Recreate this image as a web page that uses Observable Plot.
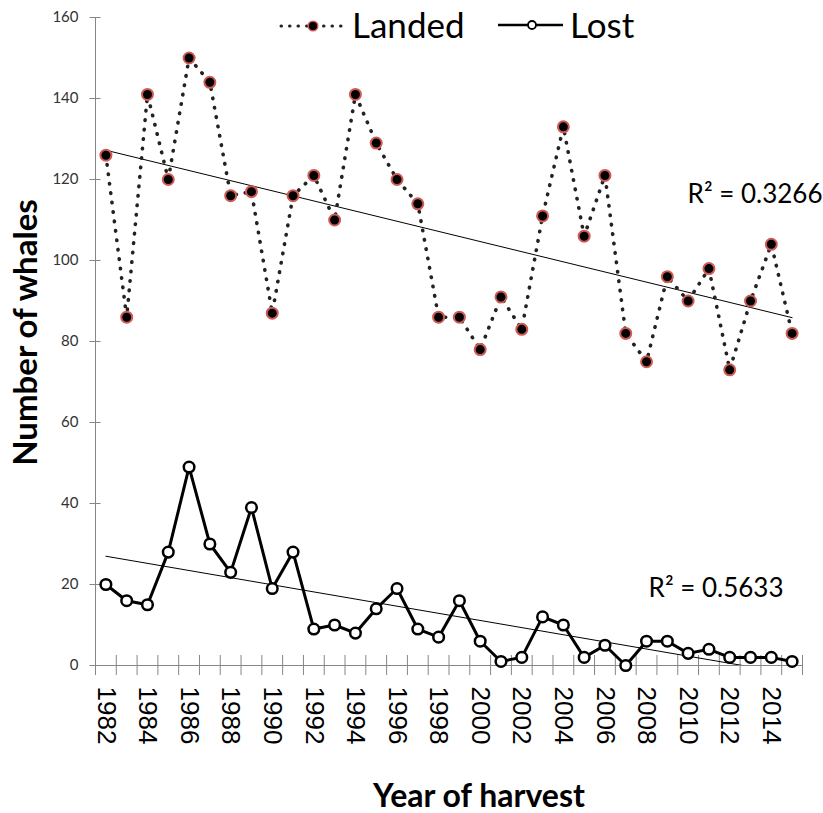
<!DOCTYPE html>
<html>
<head>
<meta charset="utf-8">
<script src="https://cdn.jsdelivr.net/npm/d3@7"></script>
<script src="https://cdn.jsdelivr.net/npm/@observablehq/plot@0.6"></script>
<style>
  body { margin: 0; background: #fff; }
  #chart { position: relative; width: 823px; height: 813px; }
  #legend { position: absolute; left: 0; top: 0; pointer-events: none; }
  #legend text { font-family: Lato, "Open Sans", sans-serif; font-size: 35px; fill: #000; }
</style>
</head>
<body>
<div id="chart"></div>
<script>
// Harvest years (one category each)
const years = [1982, 1983, 1984, 1985, 1986, 1987, 1988, 1989, 1990, 1991,
               1992, 1993, 1994, 1995, 1996, 1997, 1998, 1999, 2000, 2001,
               2002, 2003, 2004, 2005, 2006, 2007, 2008, 2009, 2010, 2011,
               2012, 2013, 2014, 2015];

// Whales landed per year
const landed = [126, 86, 141, 120, 150, 144, 116, 117, 87, 116,
                121, 110, 141, 129, 120, 114, 86, 86, 78, 91,
                83, 111, 133, 106, 121, 82, 75, 96, 90, 98,
                73, 90, 104, 82];

// Whales struck and lost per year
const lost = [20, 16, 15, 28, 49, 30, 23, 39, 19, 28,
              9, 10, 8, 14, 19, 9, 7, 16, 6, 1,
              2, 12, 10, 2, 5, 0, 6, 6, 3, 4,
              2, 2, 2, 1];

// Axis tick values and labels
const yTicks = [0, 20, 40, 60, 80, 100, 120, 140, 160];
const yearLabels = [1982, 1984, 1986, 1988, 1990, 1992, 1994, 1996, 1998,
                    2000, 2002, 2004, 2006, 2008, 2010, 2012, 2014];

// Coefficients of determination of the two linear trends
const r2Landed = "0.3266";
const r2Lost = "0.5633";

const landedData = years.map((year, i) => ({year, value: landed[i]}));
const lostData = years.map((year, i) => ({year, value: lost[i]}));

// Category axis: each year occupies a unit band, ticks sit between the bands
const xMin = years[0] - 0.5;
const xMax = years[years.length - 1] + 0.5;
const bandEdges = years.map(y => y - 0.5).concat([xMax]);

const axisGray = "#868686";

const chart = Plot.plot({
  width: 823,
  height: 813,
  marginLeft: 95,
  marginRight: 21,
  marginTop: 17,
  marginBottom: 148,
  style: {fontFamily: "Lato, 'Open Sans', sans-serif", background: "#fff", color: "#000"},
  x: {domain: [xMin, xMax], axis: null},
  y: {domain: [0, 160], axis: null},
  marks: [
    // axis lines
    Plot.ruleX([xMin], {y1: 0, y2: 160, stroke: axisGray}),
    Plot.ruleY([0], {stroke: axisGray}),
    // y ticks crossing the axis line, with labels
    Plot.axisY({ticks: yTicks, tickSize: 11, dx: 5.5, tickPadding: 11.5,
                stroke: axisGray, fill: "#333", fontSize: 15, label: null}),
    // x ticks between the year bands, crossing the axis line
    Plot.axisX({ticks: bandEdges, tickSize: 20, dy: -10, stroke: axisGray,
                fill: "none", label: null}),
    // rotated year labels under every second band
    Plot.axisX({ticks: yearLabels, tickSize: 0, tickRotate: 90, tickPadding: 21,
                tickFormat: d => String(d), fontSize: 26,
                fontFamily: "'Liberation Sans', Arial, sans-serif",
                fill: "#000", label: null}),
    // linear trend lines
    Plot.linearRegressionY(landedData, {x: "year", y: "value", ci: 0,
                stroke: "#000", strokeWidth: 1, clip: true}),
    Plot.linearRegressionY(lostData, {x: "year", y: "value", ci: 0,
                stroke: "#000", strokeWidth: 1, clip: true}),
    // landed: dotted line with filled markers
    Plot.line(landedData, {x: "year", y: "value", stroke: "#222", strokeWidth: 3.6,
                strokeDasharray: "0.5 9", strokeLinecap: "round"}),
    Plot.dot(landedData, {x: "year", y: "value", r: 5.5, fill: "#000",
                stroke: "#cf5a56", strokeWidth: 2}),
    // lost: solid line with open markers
    Plot.line(lostData, {x: "year", y: "value", stroke: "#000", strokeWidth: 3}),
    Plot.dot(lostData, {x: "year", y: "value", r: 5.3, fill: "#fff",
                stroke: "#000", strokeWidth: 2.5}),
    // R² annotations
    Plot.text([`R² = ${r2Landed}`], {frameAnchor: "top-right", textAnchor: "end",
                lineAnchor: "middle", dx: 20, dy: 177, fontSize: 26, fill: "#000"}),
    Plot.text([`R² = ${r2Lost}`], {frameAnchor: "bottom-right", textAnchor: "end",
                lineAnchor: "middle", dx: -19, dy: -77, fontSize: 26, fill: "#000"}),
    // axis titles
    Plot.text(["Number of whales"], {frameAnchor: "left", textAnchor: "middle",
                lineAnchor: "middle", rotate: -90, dx: -69, dy: -9,
                fontSize: 33, fontWeight: "bold", fill: "#000"}),
    Plot.text(["Year of harvest"], {frameAnchor: "bottom", textAnchor: "middle",
                lineAnchor: "middle", dx: 30, dy: 131,
                fontSize: 32, fontWeight: "bold", fill: "#000"})
  ]
});

const host = document.getElementById("chart");
host.appendChild(chart);

// Legend drawn over the top of the plot area
const legend = d3.select(host).append("svg")
  .attr("id", "legend")
  .attr("width", 823)
  .attr("height", 60);

const landedKey = legend.append("g");
landedKey.append("line")
  .attr("x1", 281).attr("x2", 341).attr("y1", 26).attr("y2", 26)
  .attr("stroke", "#222").attr("stroke-width", 3)
  .attr("stroke-dasharray", "0.5 8").attr("stroke-linecap", "round");
landedKey.append("circle")
  .attr("cx", 313).attr("cy", 26).attr("r", 4.8)
  .attr("fill", "#000").attr("stroke", "#cf5a56").attr("stroke-width", 1.5);
landedKey.append("text").attr("x", 352).attr("y", 38).text("Landed");

const lostKey = legend.append("g");
lostKey.append("line")
  .attr("x1", 498).attr("x2", 563).attr("y1", 25).attr("y2", 25)
  .attr("stroke", "#000").attr("stroke-width", 2.5);
lostKey.append("circle")
  .attr("cx", 532).attr("cy", 25).attr("r", 4)
  .attr("fill", "#fff").attr("stroke", "#000").attr("stroke-width", 1.8);
lostKey.append("text").attr("x", 570).attr("y", 38).text("Lost");
</script>
</body>
</html>
